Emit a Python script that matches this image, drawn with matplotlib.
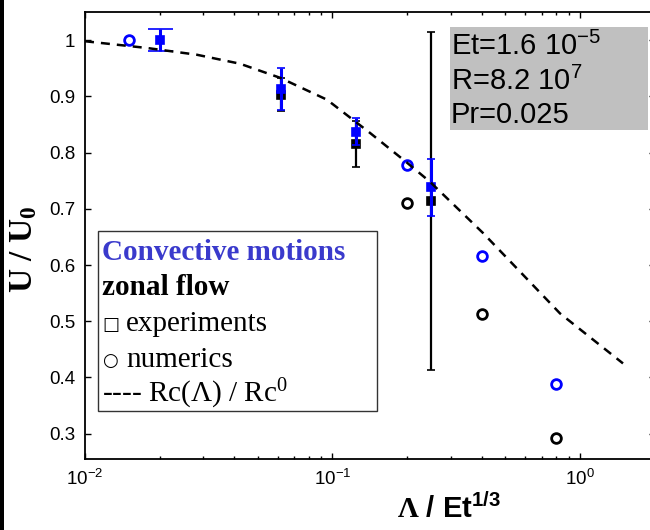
import matplotlib
matplotlib.use("Agg")
import matplotlib.pyplot as plt
from matplotlib.patches import Rectangle
from matplotlib.ticker import FixedLocator, FixedFormatter, LogLocator, NullFormatter

plt.rcParams['font.family'] = ['Liberation Sans', 'DejaVu Sans']
plt.rcParams['mathtext.fontset'] = 'custom'
plt.rcParams['mathtext.default'] = 'regular'
plt.rcParams['mathtext.bf'] = 'Liberation Serif:bold'

# ---- data ----
curve_x = [0.0100, 0.0178, 0.0283, 0.0423, 0.0614, 0.0950, 0.1417, 0.2000, 0.2477, 0.4055, 0.830, 1.492]
curve_y = [0.998, 0.986, 0.974, 0.958, 0.933, 0.894, 0.835, 0.782, 0.748, 0.657, 0.514, 0.425]

num_conv_x = [0.015, 0.2, 0.4, 0.8]
num_conv_y = [1.0, 0.778, 0.616, 0.389]
num_zonal_x = [0.2, 0.4, 0.8]
num_zonal_y = [0.710, 0.512, 0.293]

exp_conv_x = [0.02, 0.062, 0.125, 0.25]
exp_conv_y = [1.0, 0.913, 0.837, 0.738]
exp_conv_err = [0.02, 0.038, 0.024, 0.051]
exp_zonal_x = [0.062, 0.125, 0.25]
exp_zonal_y = [0.903, 0.816, 0.714]
exp_zonal_err = [0.029, 0.041, 0.30]

yticks = [0.3, 0.4, 0.5, 0.6, 0.7, 0.8, 0.9, 1.0]
yticklabels = ['0.3', '0.4', '0.5', '0.6', '0.7', '0.8', '0.9', '1']

params_lines = [r'Et=1.6 10$^{-5}$', r'R=8.2 10$^{7}$', 'Pr=0.025']
legend_symbols = ['', '', '\u25a1', '\u25cb', '']
legend_words = ['Convective motions', 'zonal flow', 'experiments',
                'numerics', r'---- Rc(Λ) / Rc$^{0}$']

W, H = 650, 530
fig = plt.figure(figsize=(6.5, 5.3), dpi=100)
ax = fig.add_axes([85 / W, (H - 459) / H, (654.5 - 85) / W, (459 - 12) / H])

blue = '#0000ff'

# zonal (black) experiments
ax.errorbar(exp_zonal_x, exp_zonal_y, yerr=exp_zonal_err, fmt='s', color='black',
            ms=6, mew=1.2, elinewidth=1.6, capsize=3, capthick=1.6, zorder=3)
# convective (blue) experiments; first point with wide caps
ax.errorbar(exp_conv_x[:1], exp_conv_y[:1], yerr=exp_conv_err[:1], fmt='s', color=blue,
            ms=6, mew=1.2, elinewidth=2.2, capsize=9, capthick=2.2, zorder=4)
ax.errorbar(exp_conv_x[1:], exp_conv_y[1:], yerr=exp_conv_err[1:], fmt='s', color=blue,
            ms=6, mew=1.2, elinewidth=2.2, capsize=3, capthick=2.2, zorder=4)
# numerics
ax.plot(num_zonal_x, num_zonal_y, 'o', mfc='none', mec='black', ms=7, mew=2, zorder=3)
ax.plot(num_conv_x, num_conv_y, 'o', mfc='none', mec=blue, ms=7, mew=2, zorder=4)
# critical curve
ax.plot(curve_x, curve_y, color='black', lw=1.8, ls=(0, (3.6, 2.8)), zorder=5)

ax.set_xscale('log')
ax.set_xlim(0.01, 2)
ax.set_ylim(0.255, 1.05)
ax.yaxis.set_major_locator(FixedLocator(yticks))
ax.yaxis.set_major_formatter(FixedFormatter(yticklabels))
ax.xaxis.set_major_locator(LogLocator(base=10, numticks=10))
ax.xaxis.set_minor_locator(LogLocator(base=10, subs=range(2, 10), numticks=20))
ax.xaxis.set_minor_formatter(NullFormatter())
ax.tick_params(which='both', direction='in', top=True, right=True, labelsize=13.5, width=1)
ax.tick_params(which='major', length=4, pad=7)
ax.tick_params(which='minor', length=2.5)
for s in ax.spines.values():
    s.set_linewidth(1.3)

ax.set_xlabel(r'$\mathbf{\Lambda}$ / Et$^{1/3}$', fontsize=21, fontweight='bold')
ax.xaxis.set_label_coords((449 - 85) / (654.5 - 85), -0.078)
ax.set_ylabel('U / U$_{0}$', fontsize=24, fontweight='bold', family='Liberation Serif')
ax.yaxis.set_label_coords(-0.08, 0.47)

def fx(px):
    return px / W

def fy(py):
    return (H - py) / H

# parameter box
fig.patches.append(Rectangle((fx(450), fy(129.5)), (648 - 450) / W, (129.5 - 26.7) / H,
                             transform=fig.transFigure, facecolor='#c0c0c0', edgecolor='none',
                             zorder=6))
for line, base in zip(params_lines, [55, 90, 123]):
    fig.text(fx(451), fy(base), line, fontsize=21, va='baseline', ha='left', zorder=7)

# legend box
fig.patches.append(Rectangle((fx(98.3), fy(410.7)), (377.3 - 98.3) / W, (410.7 - 230.7) / H,
                             transform=fig.transFigure, facecolor='white', edgecolor='#333333',
                             lw=1.0, zorder=6))
styles = [dict(color='#3a3acc', fontweight='bold'), dict(color='black', fontweight='bold'),
          dict(color='black'), dict(color='black'), dict(color='black')]
for sym, word, base, st in zip(legend_symbols, legend_words, [260, 295, 331, 367, 402], styles):
    if sym:
        fig.text(fx(102), fy(base - 1), sym, fontsize=13, va='baseline', ha='left',
                 family=['DejaVu Sans'], zorder=7, color='black')
        fig.text(fx(126), fy(base), word, fontsize=21, va='baseline', ha='left',
                 family=['Liberation Serif', 'DejaVu Serif'], zorder=7, **st)
    else:
        fig.text(fx(102), fy(base), word, fontsize=21, va='baseline', ha='left',
                 family=['Liberation Serif', 'DejaVu Serif'], zorder=7, **st)

# left frame edge
fig.patches.append(Rectangle((0, 0), 4 / W, 1, transform=fig.transFigure,
                             facecolor='black', edgecolor='none', zorder=8))

fig.savefig('out.png', dpi=100)
